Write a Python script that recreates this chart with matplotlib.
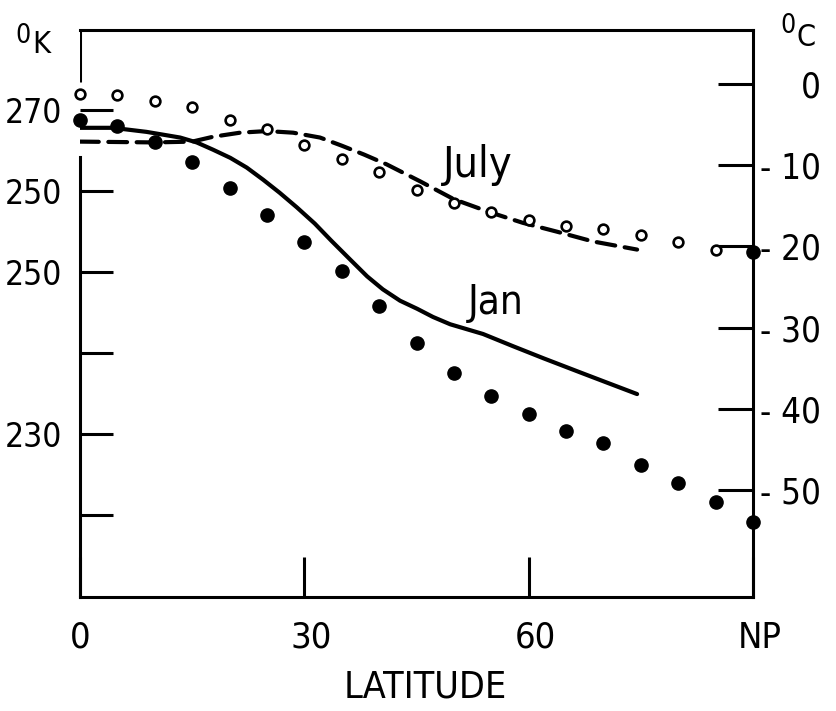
import matplotlib
matplotlib.use("Agg")
import matplotlib.pyplot as plt
import matplotlib.font_manager as fm
import matplotlib.transforms as mtransforms
import numpy as np

# pick the narrowest available sans family
_fonts = fm.fontManager.ttflist
_narrow = [f for f in _fonts if ('Narrow' in f.name or 'Condensed' in f.name
                                  or f.stretch in ('condensed', 'semi-condensed', 'extra-condensed'))]
FONT_STRETCH = 'normal'
if any(f.name == 'Liberation Sans Narrow' for f in _fonts):
    FONT = 'Liberation Sans Narrow'
    SCALE = 1.03
elif _narrow:
    FONT = _narrow[0].name
    FONT_STRETCH = _narrow[0].stretch
    SCALE = 1.0
else:
    FONT = 'Liberation Sans'
    SCALE = 0.9
plt.rcParams['font.family'] = [FONT, 'DejaVu Sans']
plt.rcParams['font.stretch'] = FONT_STRETCH

# ---------------- data ----------------
lat_obs = [0, 5, 10, 15, 20, 25, 30, 35, 40, 45, 50, 55, 60, 65, 70, 75, 80, 85, 90]
jan_obs_c = [-4.4, -5.2, -7.2, -9.6, -12.8, -16.1, -19.5, -23.1, -27.4, -31.9,
             -35.6, -38.4, -40.7, -42.7, -44.2, -46.9, -49.2, -51.5, -53.9]
lat_july_obs = [0, 5, 10, 15, 20, 25, 30, 35, 40, 45, 50, 55, 60, 65, 70, 75, 80, 85]
july_obs_c = [-1.2, -1.35, -2.1, -2.8, -4.4, -5.5, -7.5, -9.3, -10.9, -13.0,
              -14.7, -15.8, -16.7, -17.5, -17.9, -18.6, -19.5, -20.4]
lat_np = [90]
july_np_c = [-20.7]

jan_curve_lat = [0, 4.4, 8.9, 13.4, 15.6, 17.8, 20.1, 22.3, 24.5, 26.7, 29.0, 31.4,
                 33.6, 36.1, 38.4, 40.5, 42.8, 45.1, 47.2, 49.5, 51.7, 53.9, 57.9,
                 62.0, 66.8, 70.5, 74.5]
jan_curve_c = [-5.4, -5.4, -5.9, -6.6, -7.2, -8.1, -9.1, -10.3, -11.8, -13.4, -15.2,
               -17.2, -19.3, -21.6, -23.7, -25.3, -26.7, -27.7, -28.7, -29.6, -30.2,
               -30.8, -32.3, -33.8, -35.5, -36.8, -38.2]
july_curve_lat = [0, 5, 10, 15, 17.8, 21.4, 25, 28.5, 32.1, 35, 38, 41, 45.5, 50,
                  54.8, 59.2, 63.8, 68.6, 74.5]
july_curve_c = [-7.1, -7.15, -7.2, -7.1, -6.5, -6.0, -5.8, -6.0, -6.6, -7.6, -8.7,
                -9.9, -12.0, -14.2, -15.8, -17.1, -18.2, -19.4, -20.4]

x_ticks = [0, 30, 60, 90]
x_tick_labels = ["0", "30", "60", "NP"]
c_ticks = [0, -10, -20, -30, -40, -50]
c_tick_labels = ["0", "- 10", "- 20", "- 30", "- 40", "- 50"]
k_ticks = [270, 260, 250, 240, 230, 220]
k_tick_labels = ["270", "250", "250", "", "230", ""]

# ---------------- figure ----------------
W, H = 836, 711
fig = plt.figure(figsize=(W / 100, H / 100), dpi=100)
left, right, top, bottom = 80, 753, 30, 597
ax = fig.add_axes([left / W, 1 - bottom / H, (right - left) / W, (bottom - top) / H])

ylim = (-63.2, 6.65)
ax.set_xlim(0, 90)
ax.set_ylim(*ylim)

lw_sp = 2.2
for s in ['top', 'right', 'bottom', 'left']:
    ax.spines[s].set_linewidth(lw_sp)
    ax.spines[s].set_color('black')
# broken left spine
ax.spines['left'].set_bounds(ylim[0], -9.0)
frac = (0.25 - ylim[0]) / (ylim[1] - ylim[0])
ax.axvline(0, ymin=frac, ymax=1, color='black', lw=lw_sp, solid_capstyle='butt')

# curves
ax.plot(jan_curve_lat, jan_curve_c, color='black', lw=3.0, solid_capstyle='round',
        solid_joinstyle='round')
ax.plot(july_curve_lat, july_curve_c, color='black', lw=3.0, linestyle=(0, (4.5, 2.3)),
        dash_capstyle='round')

# observations
ax.plot(lat_obs, jan_obs_c, 'o', color='black', ms=9.5, clip_on=False)
ax.plot(lat_july_obs, july_obs_c, 'o', mfc='white', mec='black', mew=1.9, ms=7.0,
        clip_on=False)
ax.plot(lat_np, july_np_c, 'o', color='black', ms=9.5, clip_on=False)

# x axis
ax.set_xticks(x_ticks)
ax.set_xticklabels(x_tick_labels)
ax.tick_params(axis='x', direction='in', length=29, width=2.2, pad=17,
               labelsize=26 * SCALE)
shift = mtransforms.ScaledTranslation(7 / 100, 0, fig.dpi_scale_trans)
for lab in ax.get_xticklabels()[1:]:
    lab.set_transform(lab.get_transform() + shift)
ax.set_xlabel("LATITUDE", fontsize=27 * SCALE, labelpad=10)
ax.xaxis.set_label_coords((425 - left) / (right - left), -(688 - bottom) / (bottom - top))
ax.xaxis.label.set_va('center')

# right (Celsius) axis
ax.yaxis.tick_right()
ax.set_yticks(c_ticks)
ax.set_yticklabels(c_tick_labels)
ax.tick_params(axis='y', which='both', left=False, right=True, direction='in',
               length=25, width=2.2, pad=49, labelsize=25 * SCALE)
for lab in ax.get_yticklabels():
    lab.set_horizontalalignment('right')

# left (Kelvin) axis
sec = ax.secondary_yaxis('left', functions=(lambda c: np.asarray(c) + 273.15,
                                             lambda k: np.asarray(k) - 273.15))
sec.set_yticks(k_ticks)
sec.set_yticklabels(k_tick_labels)
sec.tick_params(axis='y', direction='in', length=24, width=2.2, pad=13,
                labelsize=24 * SCALE)
sec.spines['left'].set_visible(False)

# curve labels
ax.text(48.5, -11.4, "July", fontsize=31 * SCALE, ha='left', va='baseline')
ax.text(51.9, -28.3, "Jan", fontsize=29 * SCALE, ha='left', va='baseline')

# unit labels
fig.text(15 / W, 1 - 43 / H, "0", fontsize=19 * SCALE, ha='left', va='baseline')
fig.text(32 / W, 1 - 53 / H, "K", fontsize=22 * SCALE, ha='left', va='baseline')
fig.text(780 / W, 1 - 33 / H, "0", fontsize=19 * SCALE, ha='left', va='baseline')
fig.text(797 / W, 1 - 46 / H, "C", fontsize=22 * SCALE, ha='left', va='baseline')

fig.savefig("out.png", dpi=100, facecolor='white')
